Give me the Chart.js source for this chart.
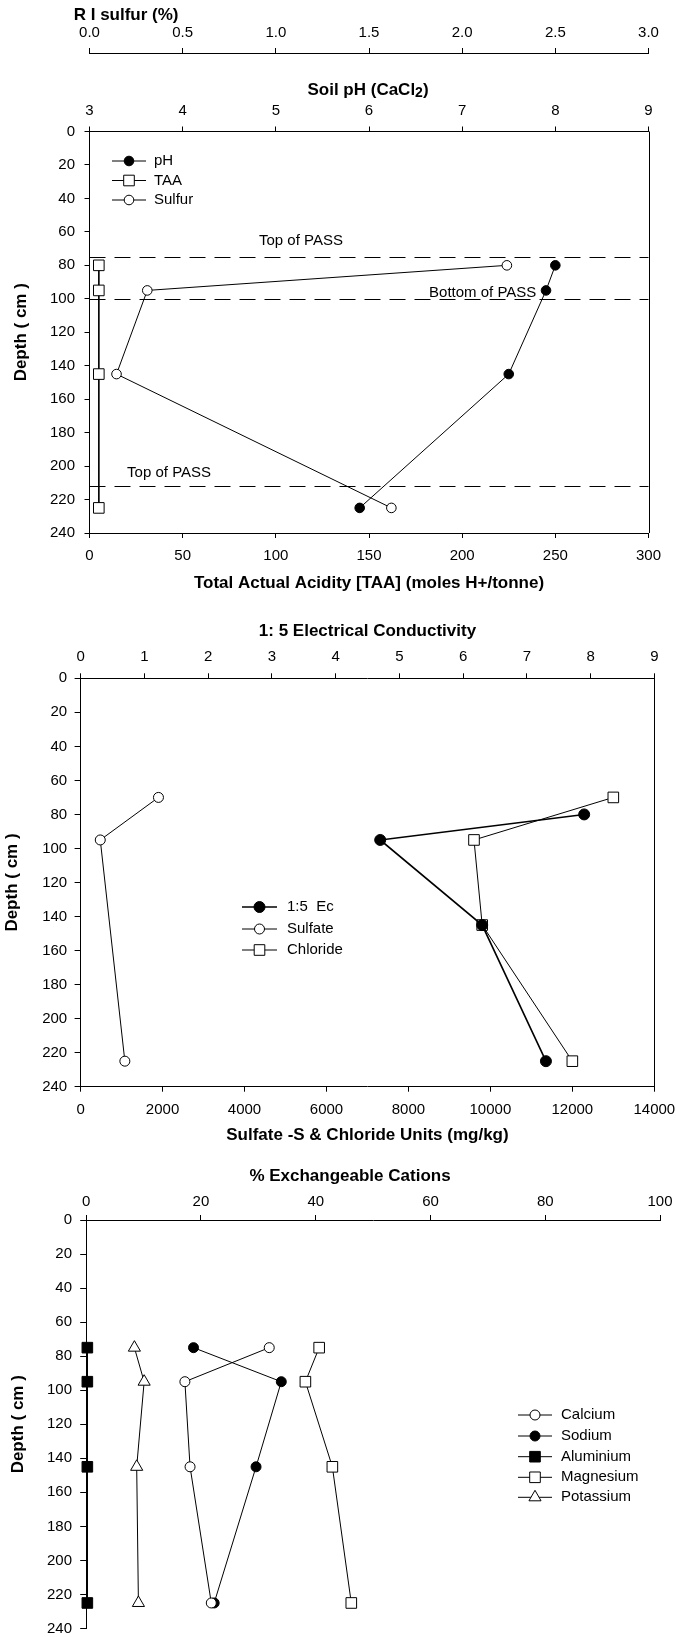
<!DOCTYPE html>
<html><head><meta charset="utf-8">
<script src="https://cdn.jsdelivr.net/npm/chart.js@4.4.1/dist/chart.umd.min.js"></script>
<style>
html,body{margin:0;padding:0;background:#fff;}
#wrap{position:relative;width:676px;height:1637px;background:#fff;}
canvas{position:absolute;left:0;}
</style></head><body>
<div id="wrap">
<canvas id="c1" width="676" height="600" style="top:0px;width:676px;height:600px"></canvas>
<canvas id="c2" width="676" height="550" style="top:600px;width:676px;height:550px"></canvas>
<canvas id="c3" width="676" height="487" style="top:1150px;width:676px;height:487px"></canvas>
</div>
<script>
// ---------- DATA ----------
// Panel 1: pH, TAA, sulfur profile
const depths1 = [80, 95, 145, 225];
const phValues = [8.0, 7.9, 7.5, 5.9];
const taaValues = [5, 5, 5, 5];
const sulfurValues = [2.24, 0.31, 0.145, 1.62];
const passDepths = [75, 100, 212];
const passLabels = ['Top of PASS', 'Bottom of PASS', 'Top of PASS'];
const passLabelTAA = [113.5, 211, 42.7];
const passLabelDepth = [65.3, 96.5, 204];
const sulfurTicks = [0, 0.5, 1, 1.5, 2, 2.5, 3];
const phTicks = [3, 4, 5, 6, 7, 8, 9];
const taaTicks = [0, 50, 100, 150, 200, 250, 300];
const depthTicks = [0, 20, 40, 60, 80, 100, 120, 140, 160, 180, 200, 220, 240];

// Panel 2: EC, sulfate, chloride
const ecDepths = [80, 95, 145, 225];
const ecValues = [7.9, 4.7, 6.3, 7.3];
const sulfateDepths = [70, 95, 225];
const sulfateValues = [1900, 480, 1080];
const chlorideDepths = [70, 95, 145, 225];
const chlorideValues = [13000, 9600, 9800, 12000];
const ecTicks = [0, 1, 2, 3, 4, 5, 6, 7, 8, 9];
const ionTicks = [0, 2000, 4000, 6000, 8000, 10000, 12000, 14000];

// Panel 3: exchangeable cations
const cationDepths = [75, 95, 145, 225];
const calciumValues = [31.9, 17.2, 18.1, 21.8];
const sodiumValues = [18.7, 34.0, 29.6, 22.3];
const aluminiumValues = [0.2, 0.2, 0.2, 0.2];
const magnesiumValues = [40.6, 38.2, 42.9, 46.2];
const potassiumValues = [8.4, 10.1, 8.8, 9.1];
const cationTicks = [0, 20, 40, 60, 80, 100];

// ---------- HELPERS ----------
const FONT = "'Liberation Sans', Arial, Helvetica, sans-serif";
const tickFont = {family: FONT, size: 15};
const titleFont = {family: FONT, size: 17, weight: 'bold'};
const pts = (xs, ds) => xs.map((v, i) => ({x: v, y: ds[i]}));

function mkAxis(o) {
  const horiz = o.position === 'top' || o.position === 'bottom';
  return {
    type: 'linear', position: o.position, min: o.min, max: o.max,
    reverse: !!o.reverse, weight: o.weight || 0,
    afterBuildTicks: s => { s.ticks = o.ticks.map(v => ({value: v})); },
    ticks: {font: tickFont, color: '#000', padding: o.pad, autoSkip: false,
            maxRotation: 0, minRotation: 0,
            callback: o.fmt || (v => String(v))},
    grid: {drawOnChartArea: false, drawTicks: true, tickLength: o.tickLen || 5,
           color: '#000', lineWidth: 1},
    border: {display: true, color: '#000', width: 1},
    title: o.title ? {display: true, text: o.title, font: titleFont, color: '#000',
                      padding: o.titlePad} : {display: false},
    afterFit: s => {
      if (horiz) { s.height = o.size; s.paddingLeft = 0; s.paddingRight = 0; }
      else { s.width = o.size; s.paddingTop = 0; s.paddingBottom = 0; }
    }
  };
}

function ds(label, xs, dsDepths, xAxisID, style, fill, radius, lw) {
  return {
    label, data: pts(xs, dsDepths), xAxisID, yAxisID: 'y',
    showLine: true, tension: 0, fill: false, clip: false,
    borderColor: '#000', borderWidth: lw || 1,
    pointStyle: style, pointRadius: radius, pointHoverRadius: radius,
    pointBackgroundColor: fill, pointBorderColor: '#000', pointBorderWidth: 1
  };
}

function drawMarker(ctx, d, x, y) {
  const r = d.pointRadius;
  ctx.beginPath();
  if (d.pointStyle === 'circle') {
    ctx.arc(x, y, r, 0, Math.PI * 2);
  } else if (d.pointStyle === 'rect') {
    const s = Math.SQRT1_2 * r;
    ctx.rect(x - s, y - s, 2 * s, 2 * s);
  } else if (d.pointStyle === 'triangle') {
    const e = 3 * r / Math.sqrt(3);
    const h = e * Math.sqrt(3) / 2;
    ctx.moveTo(x - e / 2, y + h / 3);
    ctx.lineTo(x + e / 2, y + h / 3);
    ctx.lineTo(x, y - 2 * h / 3);
    ctx.closePath();
  }
  ctx.fillStyle = d.pointBackgroundColor;
  ctx.fill();
  ctx.lineWidth = 1; ctx.strokeStyle = '#000';
  ctx.stroke();
}

function legendPlugin(cfg) {
  return {
    id: 'customLegend',
    afterDraw(chart) {
      const ctx = chart.ctx;
      ctx.save();
      cfg.order.forEach((di, i) => {
        const d = chart.data.datasets[di];
        const y = cfg.rows[i];
        ctx.setLineDash([]);
        ctx.strokeStyle = '#000'; ctx.lineWidth = d.borderWidth;
        ctx.beginPath(); ctx.moveTo(cfg.x0, y); ctx.lineTo(cfg.x1, y); ctx.stroke();
        drawMarker(ctx, d, cfg.xm, y);
        ctx.fillStyle = '#000'; ctx.font = '15px ' + FONT;
        ctx.textBaseline = 'middle'; ctx.textAlign = 'left';
        ctx.fillText(d.label, cfg.xt, y);
      });
      ctx.restore();
    }
  };
}

const framePlugin = {
  id: 'frame',
  afterDatasetsDraw(chart) {
    const {ctx, chartArea: a} = chart;
    ctx.save();
    ctx.strokeStyle = '#000'; ctx.lineWidth = 1;
    const x = Math.round(a.right) + 0.5;
    ctx.beginPath(); ctx.moveTo(x, a.top); ctx.lineTo(x, a.bottom); ctx.stroke();
    ctx.restore();
  }
};

function textPlugin(items) {
  return {
    id: 'customText',
    afterDraw(chart) {
      const ctx = chart.ctx;
      ctx.save();
      ctx.fillStyle = '#000'; ctx.textBaseline = 'middle';
      items.forEach(it => {
        if (it.sub) {
          ctx.font = 'bold 17px ' + FONT;
          const wa = ctx.measureText(it.text).width;
          ctx.font = 'bold 14px ' + FONT;
          const wb = ctx.measureText(it.sub).width;
          ctx.font = 'bold 17px ' + FONT;
          const wc = ctx.measureText(it.tail).width;
          let x0 = it.x - (wa + wb + wc) / 2;
          ctx.textAlign = 'left';
          ctx.fillText(it.text, x0, it.y);
          ctx.font = 'bold 14px ' + FONT;
          ctx.fillText(it.sub, x0 + wa, it.y + 3);
          ctx.font = 'bold 17px ' + FONT;
          ctx.fillText(it.tail, x0 + wa + wb, it.y);
        } else {
          ctx.font = 'bold 17px ' + FONT;
          ctx.textAlign = it.align || 'center';
          ctx.fillText(it.text, it.x, it.y);
        }
      });
      ctx.restore();
    }
  };
}

const passPlugin = {
  id: 'pass',
  beforeDatasetsDraw(chart) {
    const {ctx, chartArea: a, scales} = chart;
    ctx.save();
    ctx.setLineDash([16, 9]); ctx.strokeStyle = '#000'; ctx.lineWidth = 1;
    passDepths.forEach(d => {
      const py = Math.round(scales.y.getPixelForValue(d)) + 0.5;
      ctx.beginPath(); ctx.moveTo(a.left, py); ctx.lineTo(a.right, py); ctx.stroke();
    });
    ctx.restore();
  },
  afterDatasetsDraw(chart) {
    const {ctx, scales} = chart;
    ctx.save();
    ctx.fillStyle = '#000'; ctx.font = '15px ' + FONT;
    ctx.textAlign = 'center'; ctx.textBaseline = 'middle';
    passLabels.forEach((t, i) => {
      ctx.fillText(t, scales.x.getPixelForValue(passLabelTAA[i]),
                   scales.y.getPixelForValue(passLabelDepth[i]));
    });
    ctx.restore();
  }
};

const common = {
  responsive: false, animation: false, devicePixelRatio: 1,
  events: [],
};

// ---------- PANEL 1 ----------
new Chart(document.getElementById('c1'), {
  type: 'scatter',
  data: {datasets: [
    ds('pH', phValues, depths1, 'xPh', 'circle', '#000', 4.8),
    ds('TAA', taaValues, depths1, 'x', 'rect', '#fff', 7.5),
    ds('Sulfur', sulfurValues, depths1, 'xS', 'circle', '#fff', 4.8)
  ]},
  options: Object.assign({}, common, {
    layout: {padding: {left: 0, right: 27.5, top: 0, bottom: 0}},
    plugins: {legend: {display: false}, tooltip: {enabled: false}},
    scales: {
      y: mkAxis({position: 'left', min: 0, max: 240, reverse: true, ticks: depthTicks,
                 size: 89.5, pad: 9.5, title: 'Depth ( cm )', titlePad: {top: 11.3}}),
      x: mkAxis({position: 'bottom', min: 0, max: 300, ticks: taaTicks, size: 67, pad: 9,
                 title: 'Total Actual Acidity [TAA] (moles H+/tonne)', titlePad: {bottom: 6.8}}),
      xPh: mkAxis({position: 'top', min: 3, max: 9, ticks: phTicks, size: 78.5, pad: 6.5, weight: 0}),
      xS: mkAxis({position: 'top', min: 0, max: 3, ticks: sulfurTicks, size: 53, pad: 6, weight: 1,
                  fmt: v => v.toFixed(1)})
    }
  }),
  plugins: [passPlugin, framePlugin,
    legendPlugin({order: [0, 1, 2], rows: [161, 180.5, 200], x0: 112, x1: 146, xm: 129, xt: 154}),
    textPlugin([
      {text: 'R I sulfur (%)', x: 73.7, y: 15, align: 'left'},
      {text: 'Soil pH (CaCl', sub: '2', tail: ')', x: 368, y: 90}
    ])]
});

// ---------- PANEL 2 ----------
new Chart(document.getElementById('c2'), {
  type: 'scatter',
  data: {datasets: [
    ds('1:5  Ec', ecValues, ecDepths, 'xEc', 'circle', '#000', 5.5, 1.6),
    ds('Sulfate', sulfateValues, sulfateDepths, 'x', 'circle', '#fff', 5),
    ds('Chloride', chlorideValues, chlorideDepths, 'x', 'rect', '#fff', 7.5)
  ]},
  options: Object.assign({}, common, {
    layout: {padding: {left: 0, right: 21.7, top: 0, bottom: 0}},
    plugins: {legend: {display: false}, tooltip: {enabled: false}},
    scales: {
      y: mkAxis({position: 'left', min: 0, max: 240, reverse: true, ticks: depthTicks,
                 size: 80.6, pad: 7.4, tickLen: 6, title: 'Depth ( cm )', titlePad: {top: 1.8}}),
      x: mkAxis({position: 'bottom', min: 0, max: 14000, ticks: ionTicks, size: 63.3, pad: 9.3,
                 title: 'Sulfate -S & Chloride Units (mg/kg)', titlePad: {bottom: 4.1}}),
      xEc: mkAxis({position: 'top', min: 0, max: 9, ticks: ecTicks, size: 78.3, pad: 7,
                   title: '1: 5 Electrical Conductivity', titlePad: {top: 21.5}})
    }
  }),
  plugins: [framePlugin,
    legendPlugin({order: [0, 1, 2], rows: [307, 329, 350], x0: 242, x1: 277, xm: 259.5, xt: 287})]
});

// ---------- PANEL 3 ----------
new Chart(document.getElementById('c3'), {
  type: 'scatter',
  data: {datasets: [
    ds('Calcium', calciumValues, cationDepths, 'x', 'circle', '#fff', 5),
    ds('Sodium', sodiumValues, cationDepths, 'x', 'circle', '#000', 5),
    ds('Aluminium', aluminiumValues, cationDepths, 'x', 'rect', '#000', 7.5),
    ds('Magnesium', magnesiumValues, cationDepths, 'x', 'rect', '#fff', 7.5),
    ds('Potassium', potassiumValues, cationDepths, 'x', 'triangle', '#fff', 7)
  ]},
  options: Object.assign({}, common, {
    layout: {padding: {left: 0, right: 16, top: 0, bottom: 7.7}},
    plugins: {legend: {display: false}, tooltip: {enabled: false}},
    scales: {
      y: mkAxis({position: 'left', min: 0, max: 240, reverse: true, ticks: depthTicks,
                 size: 86.2, pad: 8.2, tickLen: 6, title: 'Depth ( cm )', titlePad: {top: 8.2}}),
      x: mkAxis({position: 'top', min: 0, max: 100, ticks: cationTicks, size: 70, pad: 4.3})
    }
  }),
  plugins: [
    legendPlugin({order: [0, 1, 2, 3, 4], rows: [265, 286, 306.7, 327.3, 347.3],
                  x0: 518, x1: 552, xm: 535, xt: 561}),
    textPlugin([{text: '% Exchangeable Cations', x: 350, y: 26.7}])]
});
</script>
</body></html>
